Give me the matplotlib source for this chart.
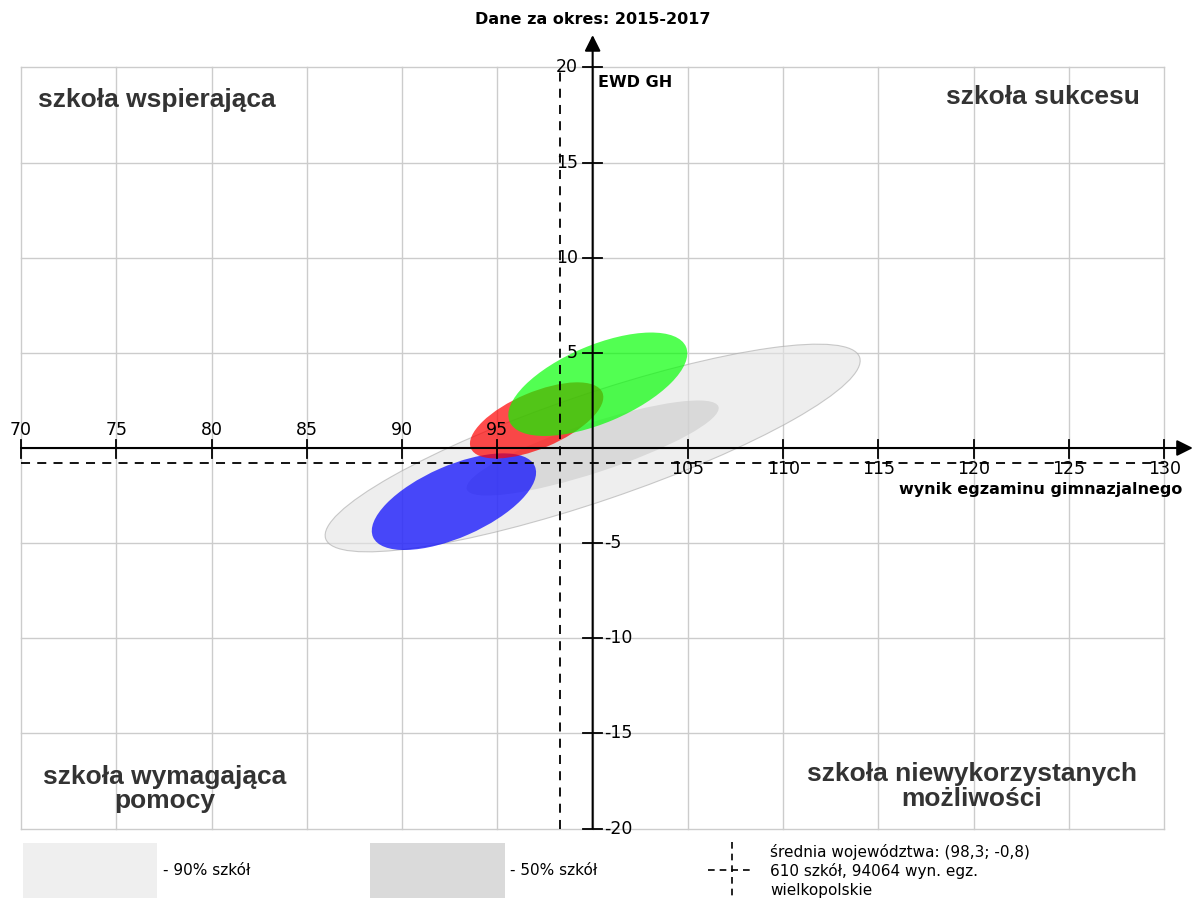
import matplotlib
matplotlib.use("Agg")
import matplotlib.pyplot as plt
from matplotlib.patches import Ellipse, Rectangle

# ellipses: 90% schools, 50% schools, then the three school ellipses
ell_names = ["90% szkół", "50% szkół", "niebieska", "czerwona", "zielona"]
ell_cx = [100.0, 100.0, 92.72, 97.06, 100.27]
ell_cy = [0.0, 0.0, -2.82, 1.45, 3.35]
ell_w = [29.6, 13.9, 9.27, 7.5, 10.06]
ell_h = [5.6, 2.6, 3.77, 2.96, 4.08]
ell_angle = [18.8, 18.2, 23.7, 23, 23]

avg_x, avg_y = 98.3, -0.8

x_ticks = list(range(70, 131, 5))
y_ticks = list(range(-20, 21, 5))

fig = plt.figure(figsize=(11.93, 8.98), dpi=100)
ax = fig.add_axes([0, 0, 1, 1])
ax.set_xlim(68.898, 131.506)
ax.set_ylim(-23.647, 23.542)
ax.axis("off")

grid_c = "#cccccc"
for x in x_ticks:
    ax.plot([x, x], [-20, 20], color=grid_c, lw=1, zorder=0)
for y in y_ticks:
    ax.plot([70, 130], [y, y], color=grid_c, lw=1, zorder=0)

# ellipses
styles = [
    dict(facecolor="#e4e4e4", alpha=0.6, edgecolor="#a8a8a8", lw=0.8),
    dict(facecolor="#cbcbcb", alpha=0.6, edgecolor="none"),
    dict(facecolor="#0000ff", alpha=0.7, edgecolor="none"),
    dict(facecolor="#ff0000", alpha=0.7, edgecolor="none"),
    dict(facecolor="#00ff00", alpha=0.68, edgecolor="none"),
]
for i in range(len(ell_names)):
    e = Ellipse((ell_cx[i], ell_cy[i]), ell_w[i], ell_h[i], angle=ell_angle[i],
                zorder=1, **styles[i])
    ax.add_patch(e)

# average dashed lines
ax.plot([70, 130], [avg_y, avg_y], color="black", lw=1.3, ls=(0, (5, 4)), zorder=3)
ax.plot([avg_x, avg_x], [-20, 20], color="black", lw=1.3, ls=(0, (5, 4)), zorder=3)

# axes with arrows
ax.annotate("", xy=(131.5, 0), xytext=(70, 0),
            arrowprops=dict(arrowstyle="-|>", mutation_scale=24, lw=1.5,
                            color="black", shrinkA=0, shrinkB=0), zorder=4)
ax.annotate("", xy=(100, 21.7), xytext=(100, -20),
            arrowprops=dict(arrowstyle="-|>", mutation_scale=24, lw=1.5,
                            color="black", shrinkA=0, shrinkB=0), zorder=4)

tick_fs = 12.5
for x in x_ticks:
    if x == 100:
        continue
    ax.plot([x, x], [0.42, -0.53], color="black", lw=1.3, zorder=4)
    if x < 100:
        ax.text(x, 0.95, str(x), ha="center", va="center", fontsize=tick_fs, zorder=5)
    else:
        ax.text(x, -1.1, str(x), ha="center", va="center", fontsize=tick_fs, zorder=5)
for y in y_ticks:
    if y == 0:
        continue
    ax.plot([99.5, 100.5], [y, y], color="black", lw=1.3, zorder=4)
    if y > 0:
        ax.text(99.23, y, str(y), ha="right", va="center", fontsize=tick_fs, zorder=5)
    else:
        ax.text(100.6, y, str(y), ha="left", va="center", fontsize=tick_fs, zorder=5)

ax.text(100, 22.5, "Dane za okres: 2015-2017", ha="center", va="center",
        fontsize=11.5, fontweight="bold")
ax.text(100.28, 19.23, "EWD GH", ha="left", va="center", fontsize=11.5, fontweight="bold")
ax.text(130.93, -2.2, "wynik egzaminu gimnazjalnego", ha="right", va="center",
        fontsize=11.5, fontweight="bold")

corner = dict(fontsize=19, fontweight="bold", color="#333333", family="Liberation Sans",
              linespacing=1.05)
ax.text(70.89, 18.29, "szkoła wspierająca", ha="left", va="center", **corner)
ax.text(128.72, 18.44, "szkoła sukcesu", ha="right", va="center", **corner)
ax.text(77.56, -17.92, "szkoła wymagająca\npomocy", ha="center", va="center",
        multialignment="center", **corner)
ax.text(119.9, -17.81, "szkoła niewykorzystanych\nmożliwości", ha="center", va="center",
        multialignment="center", **corner)

# legend
ax.add_patch(Rectangle((70.1, -24.0), 7.04, 3.24, facecolor="#efefef", edgecolor="none"))
ax.add_patch(Rectangle((88.3, -24.0), 7.1, 3.24, facecolor="#dadada", edgecolor="none"))
ax.text(77.45, -22.2, "- 90% szkół", ha="left", va="center", fontsize=11)
ax.text(95.66, -22.2, "- 50% szkół", ha="left", va="center", fontsize=11)
ax.plot([106.05, 108.26], [-22.2, -22.2], color="black", lw=1.2, ls=(0, (4, 3)))
ax.plot([107.3, 107.3], [-20.7, -23.6], color="black", lw=1.2, ls=(0, (4, 3)))
ax.text(109.3, -21.23, "średnia województwa: (98,3; -0,8)", ha="left", va="center", fontsize=11)
ax.text(109.3, -22.23, "610 szkół, 94064 wyn. egz.", ha="left", va="center", fontsize=11)
ax.text(109.3, -23.23, "wielkopolskie", ha="left", va="center", fontsize=11)

fig.savefig("out.png", dpi=100)
